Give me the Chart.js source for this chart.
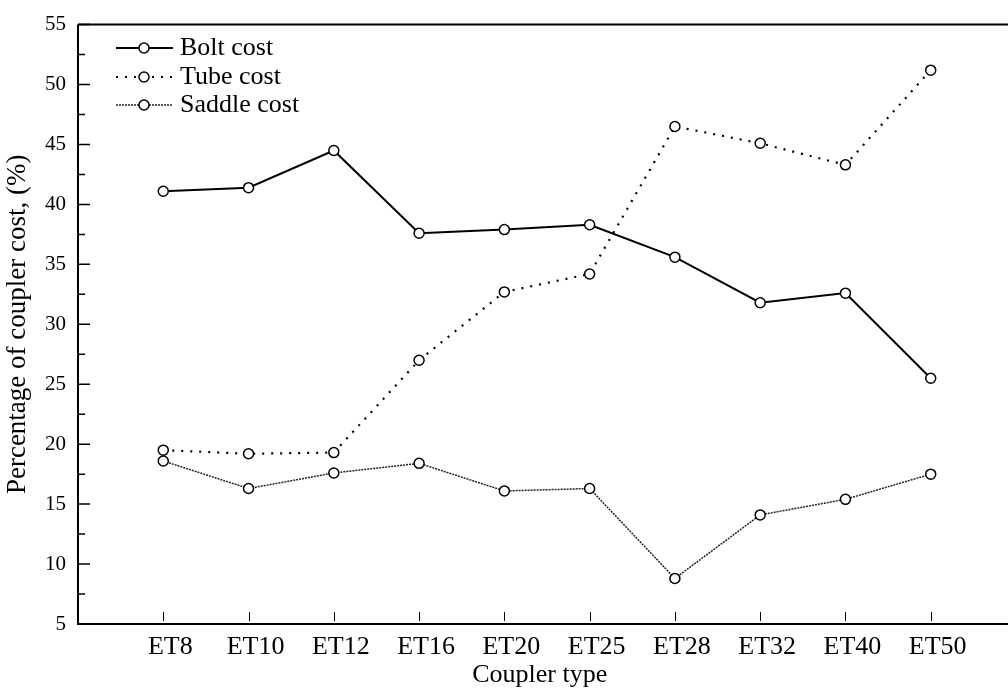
<!DOCTYPE html>
<html>
<head>
<meta charset="utf-8">
<script src="https://cdn.jsdelivr.net/npm/chart.js@4/dist/chart.umd.min.js"></script>
<style>
  html, body { margin: 0; padding: 0; background: #fff; }
  #wrap { width: 1008px; height: 692px; }
</style>
</head>
<body>
<div id="wrap"><canvas id="c" width="1008" height="692"></canvas></div>
<script>
// ---- data ----
const categories = ["ET8", "ET10", "ET12", "ET16", "ET20", "ET25", "ET28", "ET32", "ET40", "ET50"];
const boltCost   = [41.1, 41.4, 44.5, 37.6, 37.9, 38.3, 35.6, 31.8, 32.6, 25.5];
const tubeCost   = [19.5, 19.2, 19.3, 27.0, 32.7, 34.2, 46.5, 45.1, 43.3, 51.2];
const saddleCost = [18.6, 16.3, 17.6, 18.4, 16.1, 16.3, 8.8, 14.1, 15.4, 17.5];
const yTicks     = [5, 10, 15, 20, 25, 30, 35, 40, 45, 50, 55];
const seriesNames = ["Bolt cost", "Tube cost", "Saddle cost"];

const FONT = "'Liberation Serif', 'Times New Roman', serif";

function toPoints(arr) { return arr.map((v, i) => ({ x: i + 1, y: v })); }

const common = {
  pointRadius: 5,
  pointHoverRadius: 5,
  pointBackgroundColor: '#ffffff',
  pointBorderColor: '#000000',
  pointBorderWidth: 1.5,
  fill: false,
  tension: 0
};

const datasets = [
  Object.assign({}, common, { label: seriesNames[0], data: toPoints(boltCost), borderColor: '#000', borderWidth: 2, borderDash: [] }),
  Object.assign({}, common, { label: seriesNames[1], data: toPoints(tubeCost), borderColor: '#000', borderWidth: 2.2, borderDash: [2, 7] }),
  Object.assign({}, common, { label: seriesNames[2], data: toPoints(saddleCost), borderColor: '#222', borderWidth: 1.5, borderDash: [2, 1] })
];

const framePlugin = {
  id: 'frame',
  afterDatasetsDraw(chart) {
    const ctx = chart.ctx;
    const a = chart.chartArea;
    const ys = chart.scales.y, xs = chart.scales.x;
    ctx.save();
    ctx.strokeStyle = '#000';
    ctx.setLineDash([]);
    ctx.lineWidth = 2;
    ctx.beginPath();
    ctx.moveTo(a.left, a.top); ctx.lineTo(a.left, a.bottom); ctx.lineTo(chart.width, a.bottom);
    ctx.moveTo(a.left, a.top); ctx.lineTo(chart.width, a.top);
    ctx.stroke();
    // inward y ticks (major + minor)
    ctx.lineWidth = 1.5;
    ctx.beginPath();
    for (let i = 0; i < yTicks.length; i++) {
      const py = ys.getPixelForValue(yTicks[i]);
      ctx.moveTo(a.left, py); ctx.lineTo(a.left + 12, py);
      if (i < yTicks.length - 1) {
        const pm = ys.getPixelForValue((yTicks[i] + yTicks[i + 1]) / 2);
        ctx.moveTo(a.left, pm); ctx.lineTo(a.left + 7, pm);
      }
    }
    ctx.stroke();
    // inward x ticks
    ctx.lineWidth = 1;
    ctx.beginPath();
    for (let i = 0; i < categories.length; i++) {
      const px = Math.round(xs.getPixelForValue(i + 1)) + 0.5;
      ctx.moveTo(px, a.bottom - 12); ctx.lineTo(px, a.bottom - 3);
    }
    ctx.stroke();
    ctx.restore();
  },
  afterDraw(chart) {
    // legend inside plot, top-left
    const ctx = chart.ctx;
    const rows = [48, 77, 105];
    ctx.save();
    chart.data.datasets.forEach((ds, i) => {
      const y = rows[i];
      ctx.strokeStyle = ds.borderColor;
      ctx.lineWidth = ds.borderWidth;
      ctx.setLineDash(ds.borderDash || []);
      ctx.beginPath();
      ctx.moveTo(116, y); ctx.lineTo(173, y);
      ctx.stroke();
      ctx.setLineDash([]);
      ctx.beginPath();
      ctx.arc(144, y, 5, 0, Math.PI * 2);
      ctx.fillStyle = '#fff';
      ctx.fill();
      ctx.lineWidth = 1.5;
      ctx.strokeStyle = '#000';
      ctx.stroke();
      ctx.fillStyle = '#000';
      ctx.font = "26px " + FONT;
      ctx.textBaseline = 'middle';
      ctx.textAlign = 'left';
      ctx.fillText(ds.label, 180, y);
    });
    ctx.restore();
  }
};

new Chart(document.getElementById('c'), {
  type: 'line',
  data: { datasets },
  options: {
    responsive: false,
    animation: false,
    events: [],
    layout: { padding: { top: 22, right: 0, left: 0, bottom: 0 } },
    plugins: { legend: { display: false }, tooltip: { enabled: false } },
    scales: {
      x: {
        type: 'linear',
        min: 0,
        max: 10.83,
        grid: { display: false, drawTicks: false },
        border: { display: false },
        afterBuildTicks(scale) { scale.ticks = categories.map((_, i) => ({ value: i + 1 })); },
        afterFit(scale) { scale.height = 68; },
        ticks: {
          autoSkip: false,
          maxRotation: 0,
          padding: 8,
          labelOffset: 7,
          color: '#000',
          font: { family: FONT, size: 26 },
          callback: (v) => categories[Math.round(v) - 1] || ''
        },
        title: {
          display: true,
          text: 'Coupler type',
          color: '#000',
          font: { family: FONT, size: 26 },
          padding: { top: 0, bottom: 1 }
        }
      },
      y: {
        type: 'linear',
        min: 5,
        max: 55,
        grid: { display: false, drawTicks: false },
        border: { display: false },
        afterBuildTicks(scale) { scale.ticks = yTicks.map(v => ({ value: v })); },
        afterFit(scale) { scale.width = 78; },
        ticks: {
          padding: 12,
          color: '#000',
          font: { family: FONT, size: 21 }
        },
        title: {
          display: true,
          text: 'Percentage of coupler cost, (%)',
          color: '#000',
          font: { family: FONT, size: 27 },
          padding: { top: 2, bottom: 0 }
        }
      }
    }
  },
  plugins: [framePlugin]
});
</script>
</body>
</html>
